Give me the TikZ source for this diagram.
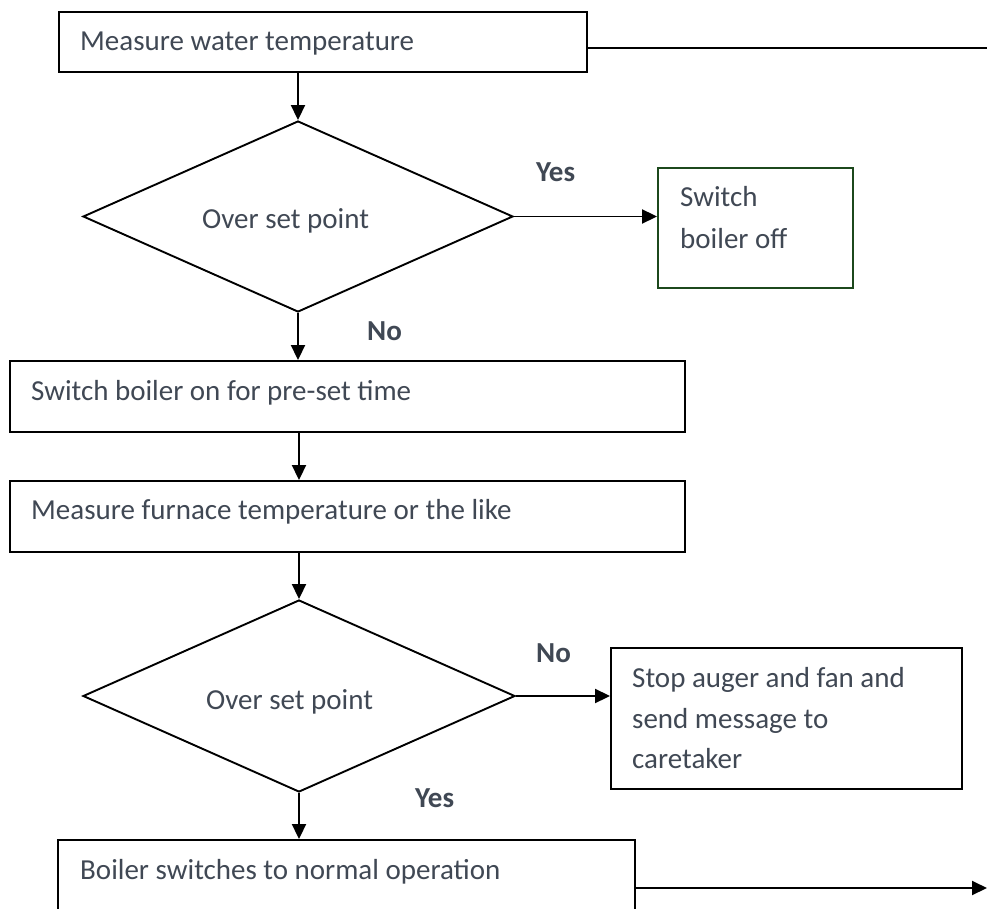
\documentclass[tikz,border=0pt]{standalone}
\usepackage{fontspec}
\setmainfont{Carlito}
\usetikzlibrary{shapes.geometric,arrows.meta}
\definecolor{txt}{RGB}{64,72,84}
\definecolor{grn}{RGB}{28,72,28}
\begin{document}
\begin{tikzpicture}[x=1pt,y=-1pt,
  box/.style={draw=black,line width=1.9pt,rectangle,inner sep=0pt},
  dia/.style={draw=black,line width=1.9pt,diamond,aspect=2.25,inner sep=0pt},
  lbl/.style={text=txt,inner sep=0pt,anchor=base west,font=\fontsize{29}{40.5}\selectfont},
  blbl/.style={lbl,font=\fontsize{29}{40.5}\selectfont\bfseries},
  conn/.style={line width=1.9pt,draw=black},
  arr/.style={conn,-{Triangle[length=15pt,width=14pt]}}]
\useasboundingbox (0,0) rectangle (987,909);
\clip (0,0) rectangle (987,909);
\fill[white] (0,0) rectangle (987,909);
% boxes
\node[box,minimum width=528pt,minimum height=60pt] (b1) at (323,42) {};
\node[dia,minimum width=430pt,minimum height=191pt] (d1) at (298,216.5) {};
\node[box,draw=grn,minimum width=195pt,minimum height=120pt] (sw) at (755.5,228) {};
\node[box,minimum width=675pt,minimum height=71pt] (b2) at (347.5,396.5) {};
\node[box,minimum width=675pt,minimum height=71pt] (b3) at (347.5,516.5) {};
\node[dia,minimum width=432pt,minimum height=192pt] (d2) at (299,696) {};
\node[box,minimum width=351pt,minimum height=141pt] (b4) at (786.5,718.5) {};
\node[box,minimum width=577pt,minimum height=74pt] (b5) at (346.5,877) {};
% texts
\node[lbl] (t1) at (80,51) {Measure water temperature};
\node[lbl] (t2) at (202,229) {Over set point};
\node[lbl] (t3a) at (680,207) {Switch};
\node[lbl] (t3b) at (680,248) {boiler off};
\node[lbl] (t4) at (31,400) {Switch boiler on for pre-set time};
\node[lbl] (t5) at (31,519) {Measure furnace temperature or the like};
\node[lbl] (t6) at (206,709) {Over set point};
\node[lbl] (t7a) at (632,687) {Stop auger and fan and};
\node[lbl] (t7b) at (632,728) {send message to};
\node[lbl] (t7c) at (632,768) {caretaker};
\node[lbl] (t8) at (80,879) {Boiler switches to normal operation};
\node[blbl] (y1) at (536,182) {Yes};
\node[blbl] (n1) at (367,340) {No};
\node[blbl] (n2) at (536,662) {No};
\node[blbl] (y2) at (415,807) {Yes};
% free ends
\coordinate (rt) at (987,48);
\coordinate (rb) at (987,888);
% connectors
\draw[conn] (b1.east |- rt) -- (rt);
\draw[arr] (d1.north |- b1.south) -- (d1.north);
\draw[arr] (d1.east) -- (sw.west |- d1.east);
\draw[arr] (d1.south) -- (d1.south |- b2.north);
\draw[arr] (d2.north |- b2.south) -- (d2.north |- b3.north);
\draw[arr] (d2.north |- b3.south) -- (d2.north);
\draw[arr] (d2.east) -- (b4.west |- d2.east);
\draw[arr] (d2.south) -- (d2.south |- b5.north);
\draw[arr] (b5.east |- rb) -- (rb);
\end{tikzpicture}
\end{document}
